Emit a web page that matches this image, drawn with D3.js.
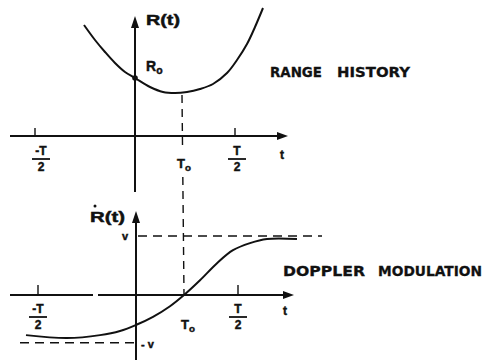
<!DOCTYPE html>
<html>
<head>
<meta charset="utf-8">
<script src="https://cdn.jsdelivr.net/npm/d3@7"></script>
<style>
  html, body { margin: 0; padding: 0; background: #fff; }
  svg { display: block; }
  text { font-family: "Liberation Sans", Arial, sans-serif; font-weight: bold; fill: #111;
         stroke: #111; stroke-width: 0.45px; }
  text.title { font-family: "DejaVu Sans", sans-serif; stroke-width: 0.3px; }
</style>
</head>
<body>
<svg id="chart" width="484" height="360"></svg>
<script>
// Time in units of T/2; range R(t) in arbitrary units; range rate in units of v
const rangeT    = [-0.51, -0.40, -0.30, -0.20, -0.10, 0.00, 0.15, 0.28, 0.40, 0.52, 0.65, 0.78, 0.92, 1.02, 1.12, 1.20, 1.28];
const rangeVals = [11.1, 9.6, 8.4, 7.3, 6.4, 5.8, 4.9, 4.4, 4.3, 4.4, 4.7, 5.2, 6.3, 7.6, 9.2, 10.9, 12.8];

const dopplerT    = [-1.11, -0.70, -0.37, -0.17, 0.00, 0.16, 0.33, 0.47, 0.63, 0.80, 0.96, 1.13, 1.30, 1.60];
const dopplerVals = [-0.68, -0.73, -0.68, -0.61, -0.50, -0.37, -0.19, 0.00, 0.25, 0.54, 0.76, 0.88, 0.95, 0.95];

const T0 = 0.47;          // time of closest approach
const R0 = 5.8;           // range at t = 0
const vHigh = 1.0;        // +v level
const vLow = -0.81;       // -v level
const tickT = [-1, 1];
const tickNumer = ["-T", "T"];
const tickDenom = ["2", "2"];
const titles = ["RANGE HISTORY", "DOPPLER MODULATION"];

const svg = d3.select("#chart");
svg.append("rect").attr("width", 484).attr("height", 360).attr("fill", "#fff");

const ink = "#111";

// ---- scales ----
const xTop = d3.scaleLinear().domain([-1, 1]).range([35, 235]);
const yTop = d3.scaleLinear().domain([0, 10]).range([136, 36]);
const xBot = d3.scaleLinear().domain([-1, 1]).range([37, 237]);
const yBot = d3.scaleLinear().domain([0, 1]).range([295, 236]);

function arrowRight(g, x, y) {
  g.append("path").attr("d", `M${x},${y} L${x - 11},${y - 4} L${x - 11},${y + 4} Z`).attr("fill", ink);
}
function arrowUp(g, x, y) {
  g.append("path").attr("d", `M${x},${y} L${x - 4},${y + 12} L${x + 4},${y + 12} Z`).attr("fill", ink);
}
function fraction(g, cx, yTopText, numer, denom) {
  g.append("text").attr("x", cx).attr("y", yTopText).attr("text-anchor", "middle")
    .attr("font-size", 12).text(numer);
  g.append("line").attr("x1", cx - 9).attr("x2", cx + 9)
    .attr("y1", yTopText + 4).attr("y2", yTopText + 4)
    .attr("stroke", ink).attr("stroke-width", 1.8);
  g.append("text").attr("x", cx).attr("y", yTopText + 16).attr("text-anchor", "middle")
    .attr("font-size", 12).text(denom);
}
function subLabel(g, x, y, main, sub, size) {
  const t = g.append("text").attr("x", x).attr("y", y).attr("font-size", size);
  t.append("tspan").text(main);
  t.append("tspan").attr("dy", 3).attr("font-size", size * 0.75).text(sub);
}
// title words are laid out one by one, each stretched to its own width
function title(g, str, xs, widths, y) {
  str.split(" ").forEach((w, i) => {
    g.append("text").attr("class", "title").attr("x", xs[i]).attr("y", y)
      .attr("font-size", 14).attr("textLength", widths[i])
      .attr("lengthAdjust", "spacingAndGlyphs").text(w);
  });
}

// ================= Range history panel =================
const gTop = svg.append("g");

// time axis
gTop.append("line").attr("x1", 10).attr("x2", 280).attr("y1", yTop(0)).attr("y2", yTop(0))
  .attr("stroke", ink).attr("stroke-width", 1.8);
arrowRight(gTop, 288, yTop(0));
// range axis
gTop.append("line").attr("x1", xTop(0)).attr("x2", xTop(0)).attr("y1", 192).attr("y2", 24)
  .attr("stroke", ink).attr("stroke-width", 2);
arrowUp(gTop, xTop(0), 16);

// ticks at +-T/2
gTop.selectAll(".tick").data(tickT).join("line")
  .attr("x1", d => xTop(d)).attr("x2", d => xTop(d))
  .attr("y1", yTop(0) - 8).attr("y2", yTop(0))
  .attr("stroke", ink).attr("stroke-width", 1.4);
tickT.forEach((d, i) => fraction(gTop, xTop(d) + (i === 0 ? 6 : 2), 155, tickNumer[i], tickDenom[i]));

gTop.append("text").attr("x", 280).attr("y", 159).attr("font-size", 12).text("t");

// range curve
const lineTop = d3.line().x((d, i) => xTop(rangeT[i])).y(d => yTop(d)).curve(d3.curveCatmullRom.alpha(0.5));
gTop.append("path").attr("d", lineTop(rangeVals)).attr("fill", "none")
  .attr("stroke", ink).attr("stroke-width", 2);

// R0 point
gTop.append("circle").attr("cx", xTop(0)).attr("cy", yTop(R0)).attr("r", 2.8).attr("fill", ink);

gTop.append("text").attr("x", 146).attr("y", 25).attr("font-size", 14)
  .attr("textLength", 34).attr("lengthAdjust", "spacingAndGlyphs").text("R(t)");
subLabel(gTop, 146, 71, "R", "o", 14);
subLabel(gTop, 177, 168, "T", "o", 13);

title(gTop, titles[0], [270, 337], [52, 73], 77);

// ================= Doppler panel =================
const gBot = svg.append("g");

// time axis (drawn with a small break, as in the original sketch)
gBot.append("line").attr("x1", 10).attr("x2", 93).attr("y1", yBot(0)).attr("y2", yBot(0))
  .attr("stroke", ink).attr("stroke-width", 1.8);
gBot.append("line").attr("x1", 98).attr("x2", 286).attr("y1", yBot(0)).attr("y2", yBot(0))
  .attr("stroke", ink).attr("stroke-width", 1.8);
arrowRight(gBot, 294, yBot(0));
// range-rate axis
gBot.append("line").attr("x1", xBot(0) - 1).attr("x2", xBot(0) - 1).attr("y1", 360).attr("y2", 220)
  .attr("stroke", ink).attr("stroke-width", 2);
arrowUp(gBot, xBot(0) - 1, 211);

gBot.selectAll(".tick").data(tickT).join("line")
  .attr("x1", d => xBot(d) + 1).attr("x2", d => xBot(d) + 1)
  .attr("y1", yBot(0) - 10).attr("y2", yBot(0))
  .attr("stroke", ink).attr("stroke-width", 1.4);
tickT.forEach((d, i) => fraction(gBot, xBot(d) + 1, 313, tickNumer[i], tickDenom[i]));

gBot.append("text").attr("x", 283).attr("y", 315).attr("font-size", 12).text("t");

// +v and -v levels
gBot.append("line").attr("x1", xBot(0) + 1).attr("x2", 322).attr("y1", yBot(vHigh)).attr("y2", yBot(vHigh))
  .attr("stroke", ink).attr("stroke-width", 1.4).attr("stroke-dasharray", "9,6");
gBot.append("line").attr("x1", 20).attr("x2", 138).attr("y1", yBot(vLow)).attr("y2", yBot(vLow))
  .attr("stroke", ink).attr("stroke-width", 1.4).attr("stroke-dasharray", "9,6");
gBot.append("text").attr("x", 122).attr("y", 240).attr("font-size", 11).text("v");
gBot.append("text").attr("x", 141).attr("y", 348).attr("font-size", 11)
  .attr("letter-spacing", 3).text("-v");

// doppler curve
const lineBot = d3.line().x((d, i) => xBot(dopplerT[i])).y(d => yBot(d)).curve(d3.curveCatmullRom.alpha(0.5));
gBot.append("path").attr("d", lineBot(dopplerVals)).attr("fill", "none")
  .attr("stroke", ink).attr("stroke-width", 2);

gBot.append("text").attr("x", 90).attr("y", 222).attr("font-size", 14)
  .attr("textLength", 35).attr("lengthAdjust", "spacingAndGlyphs").text("R(t)");
gBot.append("circle").attr("cx", 95).attr("cy", 206).attr("r", 1.5).attr("fill", ink);
subLabel(gBot, 181, 329, "T", "o", 13);

title(gBot, titles[1], [283, 378], [82, 104], 276);

// ================= T0 marker linking both panels =================
// dashed line from the range minimum down to the zero-crossing of the range rate,
// interrupted where the upper T0 label sits
const yStart = yTop(4.1), yEnd = yBot(0);
const xAt = y => xTop(T0) + (xBot(T0) - xTop(T0)) * (y - yStart) / (yEnd - yStart);
[[yStart, 151], [177, yEnd]].forEach(([a, b]) => {
  svg.append("line").attr("x1", xAt(a)).attr("x2", xAt(b)).attr("y1", a).attr("y2", b)
    .attr("stroke", ink).attr("stroke-width", 1.4).attr("stroke-dasharray", "8,6");
});
</script>
</body>
</html>
